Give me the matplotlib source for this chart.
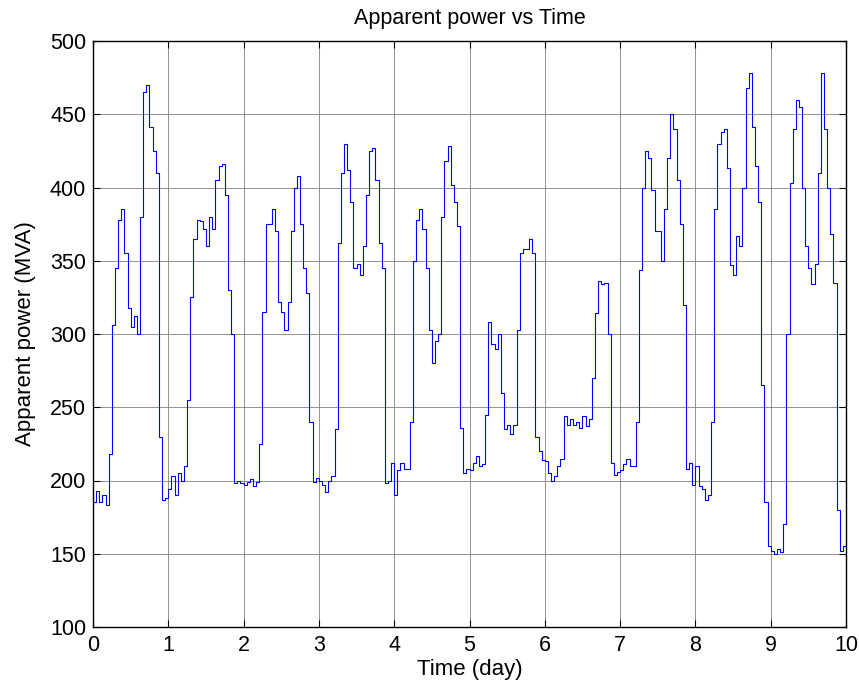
import numpy as np
import matplotlib
matplotlib.use("Agg")
import matplotlib.pyplot as plt

# Hourly apparent power readings (MVA), one list per day
day0 = [185, 193, 185, 190, 183, 218, 306, 345, 378, 385, 355, 318, 305, 312, 300, 380, 465, 470, 441, 425, 410, 230, 187, 188]
day1 = [194, 203, 190, 205, 200, 210, 255, 325, 365, 378, 377, 372, 360, 380, 372, 405, 415, 416, 395, 330, 300, 198, 200, 198]
day2 = [197, 199, 201, 196, 199, 225, 315, 375, 375, 385, 370, 322, 315, 303, 322, 370, 400, 408, 375, 345, 328, 240, 199, 202]
day3 = [200, 197, 192, 200, 203, 235, 362, 410, 430, 412, 390, 345, 348, 340, 360, 395, 425, 427, 405, 362, 345, 198, 200, 212]
day4 = [190, 207, 212, 208, 208, 240, 350, 378, 385, 372, 345, 303, 280, 295, 300, 380, 418, 428, 402, 390, 374, 236, 205, 208]
day5 = [207, 212, 217, 210, 211, 245, 308, 293, 290, 300, 260, 235, 238, 232, 238, 303, 355, 358, 358, 365, 355, 230, 220, 214]
day6 = [213, 205, 200, 203, 210, 215, 244, 238, 242, 238, 240, 236, 244, 237, 242, 270, 314, 336, 334, 335, 300, 212, 204, 206]
day7 = [207, 211, 215, 210, 210, 240, 344, 400, 425, 420, 398, 370, 370, 350, 385, 420, 450, 440, 405, 375, 320, 208, 212, 197]
day8 = [210, 196, 194, 187, 190, 240, 385, 430, 438, 440, 413, 347, 340, 367, 360, 400, 468, 478, 441, 415, 390, 265, 185, 155]
day9 = [152, 150, 153, 151, 170, 300, 403, 440, 460, 455, 400, 360, 345, 334, 348, 410, 478, 440, 400, 368, 335, 180, 152, 155]

power = np.array(day0 + day1 + day2 + day3 + day4 + day5 + day6 + day7 + day8 + day9, dtype=float)
time_day = np.arange(len(power)) / 24.0
time_day = np.append(time_day, 10.0)
power = np.append(power, power[-1])

xticks = list(range(0, 11))
yticks = list(range(100, 501, 50))

plt.rcParams['font.family'] = ['Liberation Sans', 'DejaVu Sans']

fig = plt.figure(figsize=(8.59, 6.87), dpi=100)
ax = fig.add_axes([93/859, 1 - 627/687, (846-93)/859, (627-41)/687])

ax.plot(time_day, power, color=(0, 0, 1), lw=0.8, drawstyle='steps-post')

ax.set_xlim(0, 10)
ax.set_ylim(100, 500)
ax.set_xticks(xticks)
ax.set_yticks(yticks)
ax.grid(True, color=(0.5, 0.5, 0.5), lw=0.6)
ax.tick_params(direction='in', length=5, width=0.8, top=True, right=True, labelsize=15.5)
ax.tick_params(axis='x', pad=6)
ax.tick_params(axis='y', pad=5)
for s in ax.spines.values():
    s.set_linewidth(1.0)
    s.set_color('black')

ax.set_xlabel('Time (day)', fontsize=16, labelpad=2)
ax.set_ylabel('Apparent power (MVA)', fontsize=16, labelpad=10)
ax.set_title('Apparent power vs Time', fontsize=15.5, pad=12)

fig.savefig('out.png', dpi=100)
